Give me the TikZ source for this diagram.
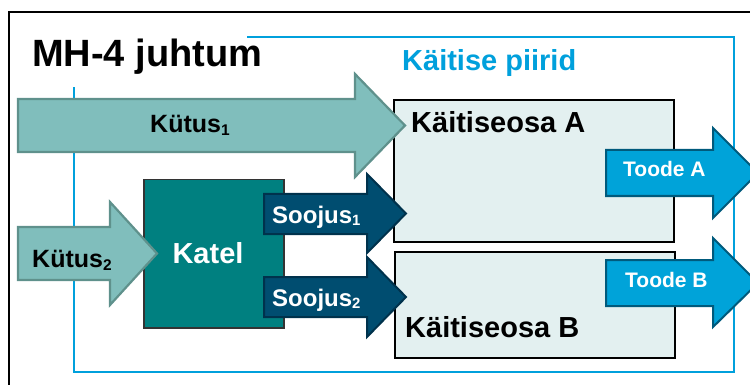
\documentclass[tikz,border=0pt]{standalone}
\usepackage{fontspec}
\setmainfont{Liberation Sans}
\definecolor{fuelfill}{HTML}{80BEBC}
\definecolor{fuelline}{HTML}{5F918C}
\definecolor{boilerfill}{HTML}{008080}
\definecolor{heatfill}{HTML}{004D70}
\definecolor{heatline}{HTML}{00324C}
\definecolor{prodfill}{HTML}{00A3D9}
\definecolor{prodline}{HTML}{005A7C}
\definecolor{partfill}{HTML}{E3F0F0}
\definecolor{bound}{HTML}{00A0DC}
\newcommand{\subidx}[1]{\raisebox{-0.12em}{\scalebox{0.62}{#1}}}
\newcommand{\fs}[1]{\fontsize{#1}{#1}\selectfont\bfseries}
\tikzset{
  fuelarrow/.style={fill=fuelfill, draw=fuelline, line width=2.2pt, line join=miter},
  heatarrow/.style={fill=heatfill, draw=heatline, line width=2pt, line join=miter},
  prodarrow/.style={fill=prodfill, draw=prodline, line width=2pt, line join=miter},
  partbox/.style={draw=black, fill=partfill, line width=2pt, anchor=north west, inner sep=0pt},
  boilerbox/.style={draw=black!80, fill=boilerfill, line width=1.5pt, anchor=north west, inner sep=0pt},
  lbl/.style={anchor=base west, inner sep=0pt},
}
\begin{document}
\begin{tikzpicture}[x=1pt,y=-1pt]
\useasboundingbox (0,0) rectangle (750,385);
\clip (0,0) rectangle (750,385);

% outer frame (continues past the right and lower edges)
\draw[line width=2pt] (9,400) -- (9,12) -- (770,12);

% plant boundary
\draw[bound, line width=2pt] (247,37) -- (734,37) -- (734,372) -- (74,372) -- (74,87);

% titles
\node[lbl] (title) at (32,67) {\fs{38}MH-4 juhtum};
\node[lbl, text=bound] (boundlbl) at (402,71) {\fs{29}Käitise piirid};

% plant parts and boiler
\node[partbox, minimum width=280pt, minimum height=142pt] (partA) at (393,99) {};
\node[partbox, minimum width=280pt, minimum height=106pt] (partB) at (394,251) {};
\node[boilerbox, minimum width=140pt, minimum height=148pt] (katel) at (143,179) {};
\node[text=white] (katellbl) at (208,253) {\fs{29}Katel};
\node[lbl] (partAlbl) at (411,133) {\fs{29}Käitiseosa A};
\node[lbl] (partBlbl) at (405,337) {\fs{29}Käitiseosa B};

% fuel flows
\draw[fuelarrow] (18,99) -- (355,99) -- (355,74) -- (405,125.5) -- (355,177) -- (355,152) -- (18,152) -- cycle;
\draw[fuelarrow] (18,227) -- (110,227) -- (110,202) -- (157,253.5) -- (110,305) -- (110,280) -- (18,280) -- cycle;
\node[lbl] (fuel1) at (150,133) {\fs{25}Kütus\subidx{1}};
\node[lbl] (fuel2) at (32,267) {\fs{25}Kütus\subidx{2}};

% heat flows from the boiler
\draw[heatarrow] (264,194) -- (367,194) -- (367,174) -- (406,213.5) -- (367,253) -- (367,234) -- (264,234) -- cycle;
\draw[heatarrow] (264,277) -- (367,277) -- (367,257) -- (406,297) -- (367,337) -- (367,317) -- (264,317) -- cycle;
\node[lbl, text=white] (heat1) at (272,223) {\fs{24}Soojus\subidx{1}};
\node[lbl, text=white] (heat2) at (272,306) {\fs{24}Soojus\subidx{2}};

% product flows
\draw[prodarrow] (606,150) -- (713,150) -- (713,128) -- (758,173) -- (713,218) -- (713,196) -- (606,196) -- cycle;
\draw[prodarrow] (606,260) -- (713,260) -- (713,238) -- (758,283) -- (713,327) -- (713,306) -- (606,306) -- cycle;
\node[lbl, text=white] (prodA) at (623,177) {\fs{21}Toode A};
\node[lbl, text=white] (prodB) at (625,287) {\fs{21}Toode B};
\end{tikzpicture}
\end{document}
